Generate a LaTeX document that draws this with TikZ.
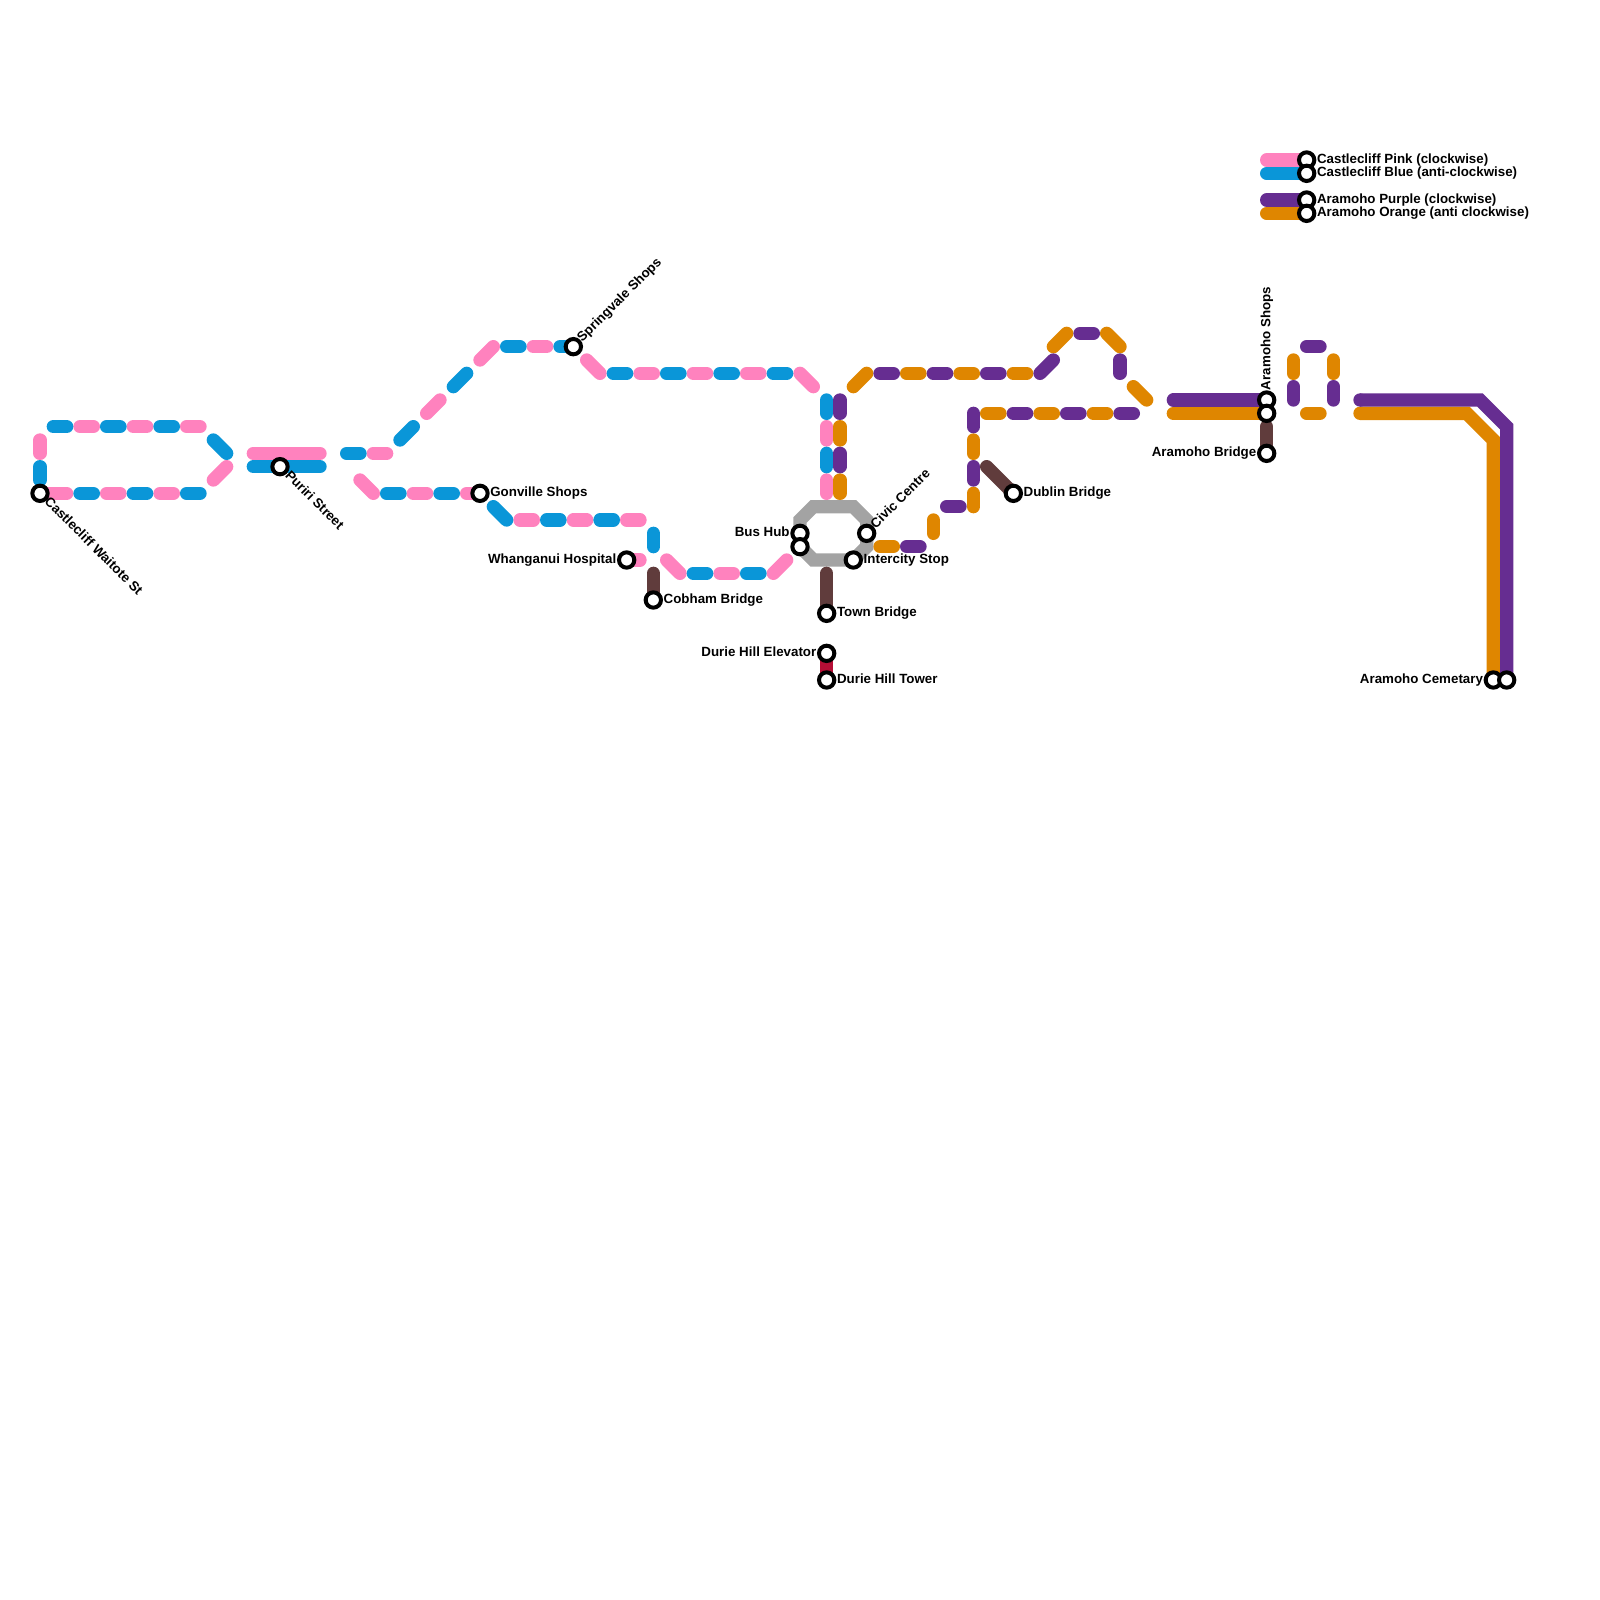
\documentclass[tikz,border=0pt]{standalone}
\usepackage{fontspec}
\setmainfont{Liberation Sans}
\usetikzlibrary{positioning, backgrounds, calc}

\definecolor{castlepink}{RGB}{255,130,190}
\definecolor{castleblue}{RGB}{10,150,216}
\definecolor{arapurple}{RGB}{102,45,145}
\definecolor{araorange}{RGB}{223,134,0}
\definecolor{hubgray}{RGB}{163,163,163}
\definecolor{bridgebrown}{RGB}{96,60,60}
\definecolor{hillred}{RGB}{181,14,53}

\begin{document}
\begin{tikzpicture}[
                x=0.33333cm, y=-0.33333cm,
                route/.style={line width=9.485pt, line cap=round},
                pinkln/.style={route, castlepink},
                blueln/.style={route, castleblue},
                purpleln/.style={route, arapurple},
                orangeln/.style={route, araorange},
                brownln/.style={route, bridgebrown},
                stn/.style={circle, draw=black, fill=white, line width=2.85pt, minimum size=10.9pt, inner sep=0pt},
                lbl/.style={inner sep=0pt, text height=0.72em, text depth=0pt, yshift=1pt, font=\bfseries\fontsize{9.485}{10}\selectfont},
            ]
            \useasboundingbox (0,0) rectangle (120,120);

            % Stations:
            \node[stn] (cas) at (3, 37) {};
            \node[stn] (pur) at (21, 35) {};
            \node[stn] (gon) at (36, 37) {};
            \node[stn] (spr) at (43, 26) {};
            \node[stn] (hos) at (47, 42) {};
            \node[stn] (cob) at (49, 45) {};
            \node[stn] (hub1) at (60, 40) {};
            \node[stn] (hub2) at (60, 41) {};
            \node[stn] (civ) at (65, 40) {};
            \node[stn] (int) at (64, 42) {};
            \node[stn] (twn) at (62, 46) {};
            \node[stn] (ele) at (62, 49) {};
            \node[stn] (twr) at (62, 51) {};
            \node[stn] (dub) at (76, 37) {};
            \node[stn] (ara1) at (95, 30) {};
            \node[stn] (ara2) at (95, 31) {};
            \node[stn] (arb) at (95, 34) {};
            \node[stn] (cem1) at (112, 51) {};
            \node[stn] (cem2) at (113, 51) {};

            % Legend stations:
            \node[stn] (leg1) at (98, 12) {};
            \node[stn] (leg2) at (98, 13) {};
            \node[stn] (leg3) at (98, 15) {};
            \node[stn] (leg4) at (98, 16) {};

            % Station labels:
            \node[lbl, rotate=-45, anchor=west] (casl) at ($(cas)+(0.55,0.5)$) {Castlecliff Waitote St};
            \node[lbl, rotate=-45, anchor=west] (purl) at ($(pur)+(0.6,0.55)$) {Puriri Street};
            \node[lbl, rotate=45, anchor=west] (sprl) at ($(spr)+(0.4,-0.45)$) {Springvale Shops};
            \node[lbl, rotate=45, anchor=west] (civl) at ($(civ)+(0.4,-0.45)$) {Civic Centre};
            \node[lbl, rotate=90, anchor=west] (aral) at ($(ara1)+(-0.1,-0.62)$) {Aramoho Shops};
            \node[lbl, right=0.3pt of gon] (gonl) {Gonville Shops};
            \node[lbl, left=0.3pt of hos] (hosl) {Whanganui Hospital};
            \node[lbl, right=0.3pt of cob] (cobl) {Cobham Bridge};
            \node[lbl, left=0.3pt of hub1] (hubl) {Bus Hub};
            \node[lbl, right=0.3pt of int] (intl) {Intercity Stop};
            \node[lbl, right=0.3pt of twn] (twnl) {Town Bridge};
            \node[lbl, left=0.3pt of ele] (elel) {Durie Hill Elevator};
            \node[lbl, right=0.3pt of twr] (twrl) {Durie Hill Tower};
            \node[lbl, right=0.3pt of dub] (dubl) {Dublin Bridge};
            \node[lbl, left=0.3pt of arb] (arbl) {Aramoho Bridge};
            \node[lbl, left=0.3pt of cem1] (ceml) {Aramoho Cemetary};
            \node[lbl, right=0.3pt of leg1] (leg1l) {Castlecliff Pink (clockwise)};
            \node[lbl, right=0.3pt of leg2] (leg2l) {Castlecliff Blue (anti-clockwise)};
            \node[lbl, right=0.3pt of leg3] (leg3l) {Aramoho Purple (clockwise)};
            \node[lbl, right=0.3pt of leg4] (leg4l) {Aramoho Orange (anti clockwise)};

            % Free line ends:
            \coordinate (leg1s) at (95, 12);
            \coordinate (leg2s) at (95, 13);
            \coordinate (leg3s) at (95, 15);
            \coordinate (leg4s) at (95, 16);
            \coordinate (cobs) at (49, 43);
            \coordinate (twns) at (62, 43);
            \coordinate (dubs) at (74, 35);
            \coordinate (arbs) at (95, 32);
            \coordinate (ara1s) at (88, 30);
            \coordinate (ara2s) at (88, 31);
            \coordinate (cem1s) at (102, 30);
            \coordinate (cem2s) at (102, 31);
            \coordinate (purs) at (19, 35);
            \coordinate (pure) at (24, 35);
            \coordinate (cass) at (5, 37);
            \coordinate (gons) at (35, 37);
            \coordinate (sprs) at (42, 26);
            \coordinate (hoss) at (48, 42);

            \begin{scope}[on background layer]
                % Legend lines:
                \draw[pinkln] (leg1s) -- (leg1.center);
                \draw[blueln] (leg2s) -- (leg2.center);
                \draw[purpleln] (leg3s) -- (leg3.center);
                \draw[orangeln] (leg4s) -- (leg4.center);

                % Hub ring around the town centre:
                \draw[route, hubgray, line cap=butt] (61,38) -- (64,38) -- (65,39) -- (65,41) -- (64,42) -- (61,42) -- (60,41) -- (60,39) -- cycle;

                % Bridges and the hill:
                \draw[brownln] (cobs) -- (cob.center);
                \draw[brownln] (twns) -- (twn.center);
                \draw[brownln] (dubs) -- (dub.center);
                \draw[brownln] (arbs) -- (arb.center);
                \draw[route, hillred] (ele.center) -- (twr.center);

                % Castlecliff loop, pink dashes:
                \draw[pinkln] (3,33) -- (3,34);
                \draw[pinkln] (6,32) -- (7,32) (10,32) -- (11,32) (14,32) -- (15,32);
                \draw[pinkln] (cass) -- (cas.center);
                \draw[pinkln] (8,37) -- (9,37) (12,37) -- (13,37);
                \draw[pinkln] (17,35) -- (16,36);
                \draw[pinkln] (19,34) -- (24,34);
                \draw[pinkln] (28,34) -- (29,34);
                \draw[pinkln] (32,31) -- (33,30) (36,27) -- (37,26);
                \draw[pinkln] (27,36) -- (28,37);
                \draw[pinkln] (31,37) -- (32,37);
                \draw[pinkln] (gons) -- (gon.center);
                \draw[pinkln] (40,26) -- (41,26);
                \draw[pinkln] (44,27) -- (45,28);
                \draw[pinkln] (48,28) -- (49,28) (52,28) -- (53,28) (56,28) -- (57,28);
                \draw[pinkln] (60,28) -- (61,29);
                \draw[pinkln] (62,32) -- (62,33) (62,36) -- (62,37);
                \draw[pinkln] (39,39) -- (40,39) (43,39) -- (44,39) (47,39) -- (48,39);
                \draw[pinkln] (hoss) -- (hos.center);
                \draw[pinkln] (50,42) -- (51,43);
                \draw[pinkln] (54,43) -- (55,43);
                \draw[pinkln] (58,43) -- (59,42);

                % Castlecliff loop, blue dashes:
                \draw[blueln] (3,35) -- (3,36);
                \draw[blueln] (4,32) -- (5,32) (8,32) -- (9,32) (12,32) -- (13,32);
                \draw[blueln] (6,37) -- (7,37) (10,37) -- (11,37) (14,37) -- (15,37);
                \draw[blueln] (16,33) -- (17,34);
                \draw[blueln] (purs) -- (pure);
                \draw[blueln] (26,34) -- (27,34);
                \draw[blueln] (30,33) -- (31,32) (34,29) -- (35,28);
                \draw[blueln] (29,37) -- (30,37) (33,37) -- (34,37);
                \draw[blueln] (38,26) -- (39,26);
                \draw[blueln] (sprs) -- (spr.center);
                \draw[blueln] (46,28) -- (47,28) (50,28) -- (51,28) (54,28) -- (55,28) (58,28) -- (59,28);
                \draw[blueln] (62,30) -- (62,31) (62,34) -- (62,35);
                \draw[blueln] (37,38) -- (38,39);
                \draw[blueln] (41,39) -- (42,39) (45,39) -- (46,39);
                \draw[blueln] (49,40) -- (49,41);
                \draw[blueln] (52,43) -- (53,43) (56,43) -- (57,43);

                % Aramoho loop, orange dashes:
                \draw[orangeln] (63,32) -- (63,33) (63,36) -- (63,37);
                \draw[orangeln] (64,29) -- (65,28);
                \draw[orangeln] (68,28) -- (69,28) (72,28) -- (73,28) (76,28) -- (77,28);
                \draw[orangeln] (79,26) -- (80,25);
                \draw[orangeln] (83,25) -- (84,26);
                \draw[orangeln] (85,29) -- (86,30);
                \draw[orangeln] (74,31) -- (75,31) (78,31) -- (79,31) (82,31) -- (83,31);
                \draw[orangeln] (73,33) -- (73,34) (73,37) -- (73,38);
                \draw[orangeln] (70,39) -- (70,40);
                \draw[orangeln] (66,41) -- (67,41);
                \draw[orangeln] (97,27) -- (97,28) (100,27) -- (100,28);
                \draw[orangeln] (98,31) -- (99,31);
                \draw[orangeln] (ara2s) -- (ara2.center);
                \draw[orangeln, line cap=butt] (cem2s) -- (110,31) -- (112,33) -- (cem1.center);
                \fill[araorange] (cem2s) circle (0.5);

                % Aramoho loop, purple dashes:
                \draw[purpleln] (63,30) -- (63,31) (63,34) -- (63,35);
                \draw[purpleln] (66,28) -- (67,28) (70,28) -- (71,28) (74,28) -- (75,28);
                \draw[purpleln] (78,28) -- (79,27);
                \draw[purpleln] (81,25) -- (82,25);
                \draw[purpleln] (84,27) -- (84,28);
                \draw[purpleln] (76,31) -- (77,31) (80,31) -- (81,31) (84,31) -- (85,31);
                \draw[purpleln] (73,31) -- (73,32) (73,35) -- (73,36);
                \draw[purpleln] (71,38) -- (72,38);
                \draw[purpleln] (68,41) -- (69,41);
                \draw[purpleln] (97,29) -- (97,30) (100,29) -- (100,30);
                \draw[purpleln] (98,26) -- (99,26);
                \draw[purpleln] (ara1s) -- (ara1.center);
                \draw[purpleln, line cap=butt] (cem1s) -- (111,30) -- (113,32) -- (cem2.center);
                \fill[arapurple] (cem1s) circle (0.5);
            \end{scope}
        \end{tikzpicture}
\end{document}
